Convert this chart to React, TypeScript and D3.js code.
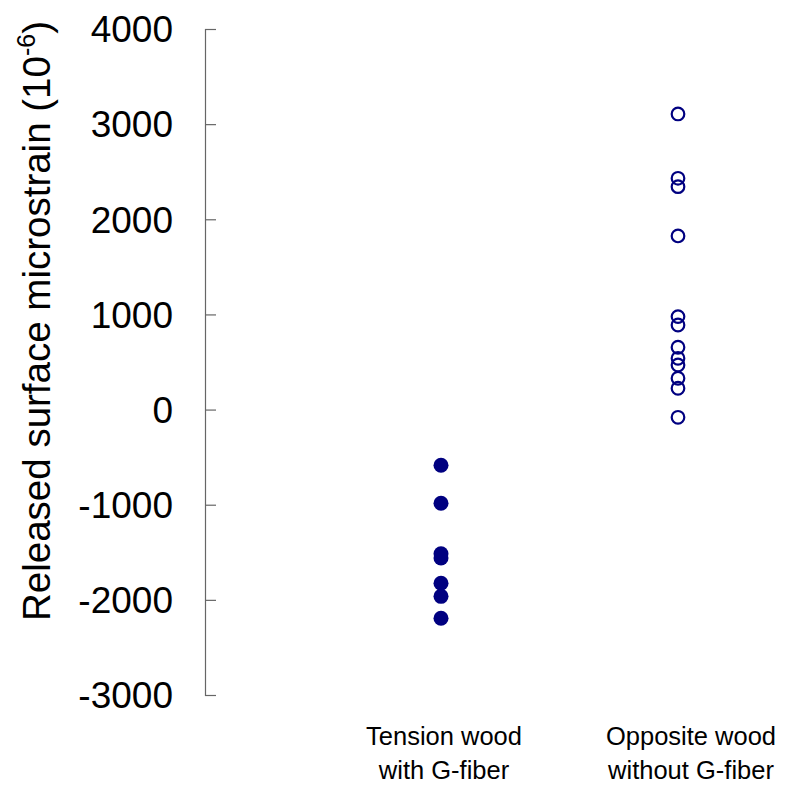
import React, { useRef, useEffect } from "react";
import * as d3 from "d3";

const categories = ["Tension wood|with G-fiber", "Opposite wood|without G-fiber"];
const tensionValues = [-585, -985, -1515, -1560, -1826, -1963, -2194];
const oppositeValues = [3107, 2431, 2343, 1825, 977, 889, 655, 539, 469, 329, 224, -81];
const yTicks = [-3000, -2000, -1000, 0, 1000, 2000, 3000, 4000];

const App = () => {
  const ref = useRef<SVGSVGElement>(null);

  useEffect(() => {
    document.body.style.margin = "0";
    const svg = d3.select(ref.current);
    svg.selectAll("*").remove();

    const width = 786;
    const height = 794;
    const margin = { top: 29, bottom: 99, left: 205 };
    const color = "#000080";
    const font = "'Liberation Sans', Arial, sans-serif";

    const y = d3
      .scaleLinear()
      .domain([-3000, 4000])
      .range([height - margin.bottom, margin.top]);

    const x = d3.scalePoint().domain(categories).range([441, 678]);
    // labels sit a bit right of the point columns in the original
    const labelShift = [3, 13];

    // y axis
    const axis = svg
      .append("g")
      .attr("transform", `translate(${margin.left},0)`)
      .call(d3.axisRight(y).tickValues(yTicks).tickSize(11).tickFormat(() => ""));
    axis.select(".domain").attr("stroke", "#666").attr("stroke-width", 1.2);
    axis.selectAll(".tick line").attr("stroke", "#666").attr("stroke-width", 1.2);

    svg
      .append("g")
      .selectAll("text")
      .data(yTicks)
      .join("text")
      .attr("x", 173)
      .attr("y", (d) => y(d))
      .attr("dy", "0.36em")
      .attr("text-anchor", "end")
      .attr("font-family", font)
      .attr("font-size", 37)
      .attr("fill", "#000")
      .text((d) => String(d));

    // y label
    const label = svg
      .append("text")
      .attr("transform", `translate(50,321) rotate(-90)`)
      .attr("text-anchor", "middle")
      .attr("font-family", font)
      .attr("font-size", 38.5)
      .attr("fill", "#000");
    label.append("tspan").text("Released surface microstrain (10");
    label.append("tspan").attr("dy", -15).attr("font-size", 25).text("-6");
    label.append("tspan").attr("dy", 15).text(")");

    // category labels
    categories.forEach((c, k) => {
      const lines = c.split("|");
      svg
        .append("text")
        .attr("text-anchor", "middle")
        .attr("font-family", font)
        .attr("font-size", 25.5)
        .attr("fill", "#000")
        .selectAll("tspan")
        .data(lines)
        .join("tspan")
        .attr("x", x(c)! + labelShift[k])
        .attr("y", (_, i) => 745 + i * 34)
        .text((d) => d);
    });

    // points
    svg
      .append("g")
      .selectAll("circle")
      .data(tensionValues)
      .join("circle")
      .attr("cx", x(categories[0])!)
      .attr("cy", (d) => y(d))
      .attr("r", 7.5)
      .attr("fill", color);

    svg
      .append("g")
      .selectAll("circle")
      .data(oppositeValues)
      .join("circle")
      .attr("cx", x(categories[1])!)
      .attr("cy", (d) => y(d))
      .attr("r", 6.3)
      .attr("fill", "none")
      .attr("stroke", color)
      .attr("stroke-width", 2.2);
  }, []);

  return <svg ref={ref} width={786} height={794} style={{ display: "block", background: "#fff" }} />;
};

export default App;
